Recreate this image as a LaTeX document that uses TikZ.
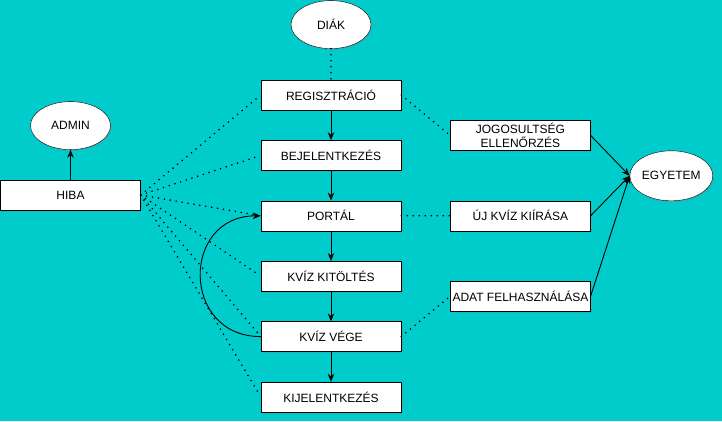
\documentclass[tikz,border=0pt]{standalone}
\usepackage{fontspec}
\setmainfont{Liberation Sans}
\usetikzlibrary{arrows.meta,positioning,shapes.geometric,shadows}
\definecolor{bgteal}{RGB}{0,204,204}

\begin{document}
\begin{tikzpicture}[
  x=1pt, y=1pt,
  node distance=30pt,
  box/.style={draw, fill=white, minimum width=140pt, minimum height=30pt, inner sep=0.5pt, align=center, font=\fontsize{12}{14}\selectfont, drop shadow={shadow xshift=1.5pt, shadow yshift=-1.5pt, opacity=0.3}},
  actor/.style={ellipse, draw, fill=white, minimum width=80pt, minimum height=48pt, inner sep=0pt, font=\fontsize{12}{14}\selectfont, drop shadow={shadow xshift=1.5pt, shadow yshift=-1.5pt, opacity=0.3}},
  flow/.style={-{Stealth[length=8pt,width=6.5pt]}, line width=0.9pt},
  link/.style={line width=1.8pt, dash pattern=on 0pt off 6pt, line cap=round},
]
\fill[bgteal] (0,0) rectangle (722,421);
\useasboundingbox (0,0) rectangle (722,421);

\node[box] (reg) at (331,326) {REGISZTRÁCIÓ};
\node[box, below=of reg] (bej) {BEJELENTKEZÉS};
\node[box, below=of bej] (portal) {PORTÁL};
\node[box, below=of portal] (kitoltes) {KVÍZ KITÖLTÉS};
\node[box, below=of kitoltes] (vege) {KVÍZ VÉGE};
\node[box, below=of vege] (kijel) {KIJELENTKEZÉS};
\node[actor, above=31pt of reg] (diak) {DIÁK};

\node[box] (hiba) at (70.5,226) {HIBA};
\node[actor, above=of hiba] (admin) {ADMIN};

\node[box, right=49pt of portal] (uj) {ÚJ KVÍZ KIÍRÁSA};
\node[box, above=50pt of uj] (jog) {JOGOSULTSÉG\\ELLENŐRZÉS};
\node[box, below=50pt of uj] (adat) {ADAT FELHASZNÁLÁSA};
\node[actor, minimum height=50pt, right=39pt of uj, yshift=40pt] (egyetem) {EGYETEM};

\draw[flow] (reg) -- (bej);
\draw[flow] (bej) -- (portal);
\draw[flow] (portal) -- (kitoltes);
\draw[flow] (kitoltes) -- (vege);
\draw[flow] (vege) -- (kijel);
\draw[flow] (hiba) -- (admin);
\draw[flow] (vege.west) .. controls +(-80,0) and +(-80,0) .. (portal.west);

\draw[link] (diak) -- (reg);
\draw[link] (reg.east) -- (jog.west);
\draw[link] (portal) -- (uj);
\draw[link] (vege.east) -- (adat.west);
\foreach \t in {reg,bej,portal,kitoltes,vege,kijel}
  \draw[link, shorten >=5pt] (hiba.east) -- (\t.west);

\draw[flow] (jog.east) -- (egyetem.west);
\draw[flow] (uj.east) -- (egyetem.west);
\draw[flow] (adat.east) -- (egyetem.west);
\end{tikzpicture}
\end{document}
